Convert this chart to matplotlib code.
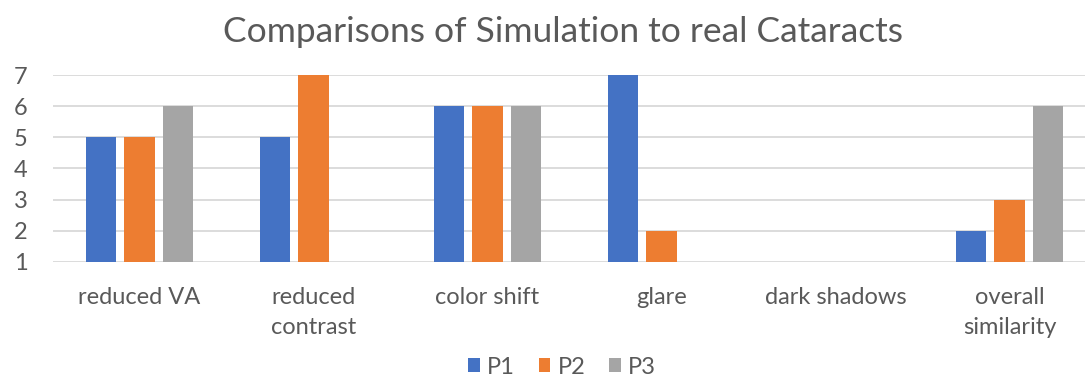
import numpy as np
import matplotlib
matplotlib.use("Agg")
import matplotlib.pyplot as plt

categories = ["reduced VA", "reduced\ncontrast", "color shift", "glare", "dark shadows", "overall\nsimilarity"]
series_names = ["P1", "P2", "P3"]
p1 = [5, 5, 6, 7, np.nan, 2]
p2 = [5, 7, 6, 2, np.nan, 3]
p3 = [6, np.nan, 6, np.nan, np.nan, 6]
y_ticks = [1, 2, 3, 4, 5, 6, 7]

colors = ["#4472C4", "#ED7D31", "#A5A5A5"]
text_color = "#595959"
grid_color = "#D9D9D9"

plt.rcParams["font.family"] = ["Lato", "DejaVu Sans"]

fig = plt.figure(figsize=(10.85, 3.78), dpi=100)
# plot area runs slightly past the right edge of the canvas
ax = fig.add_axes([52.5 / 1085, 1 - 262 / 378, (1096.5 - 52.5) / 1085, (262 - 75) / 378])

x = np.arange(len(categories))
width = 0.176
step = 0.221
base = y_ticks[0]
handles = []
for i, (vals, name, c) in enumerate(zip([p1, p2, p3], series_names, colors)):
    vals = np.array(vals, dtype=float)
    h = ax.bar(x + (i - 1) * step, vals - base, width, bottom=base, color=c,
               label=name, zorder=3, linewidth=0)
    handles.append(h)

ax.set_xlim(-0.5, len(categories) - 0.5)
ax.set_ylim(1, 7)
ax.set_yticks(y_ticks)
ax.set_yticklabels([str(t) for t in y_ticks])
ax.yaxis.grid(True, color=grid_color, linewidth=1.3, zorder=0)
ax.set_axisbelow(True)
for s in ax.spines.values():
    s.set_visible(False)
ax.tick_params(axis="both", length=0, colors=text_color, labelsize=17)
ax.tick_params(axis="y", pad=18)
ax.tick_params(axis="x", pad=18)
ax.set_xticks(x)
ax.set_xticklabels(categories, linespacing=1.55)

fig.text(563 / 1085, 1 - 32 / 378, "Comparisons of Simulation to real Cataracts",
         ha="center", va="center", fontsize=25.5, color=text_color)

fig.legend(handles=handles, labels=series_names, loc="center",
           bbox_to_anchor=(562 / 1085, 1 - 367 / 378), ncol=3, frameon=False,
           fontsize=17, labelcolor=text_color, handlelength=0.5, handleheight=0.5,
           handletextpad=0.3, columnspacing=1.0, borderpad=0.1)

fig.savefig("out.png", dpi=100)
